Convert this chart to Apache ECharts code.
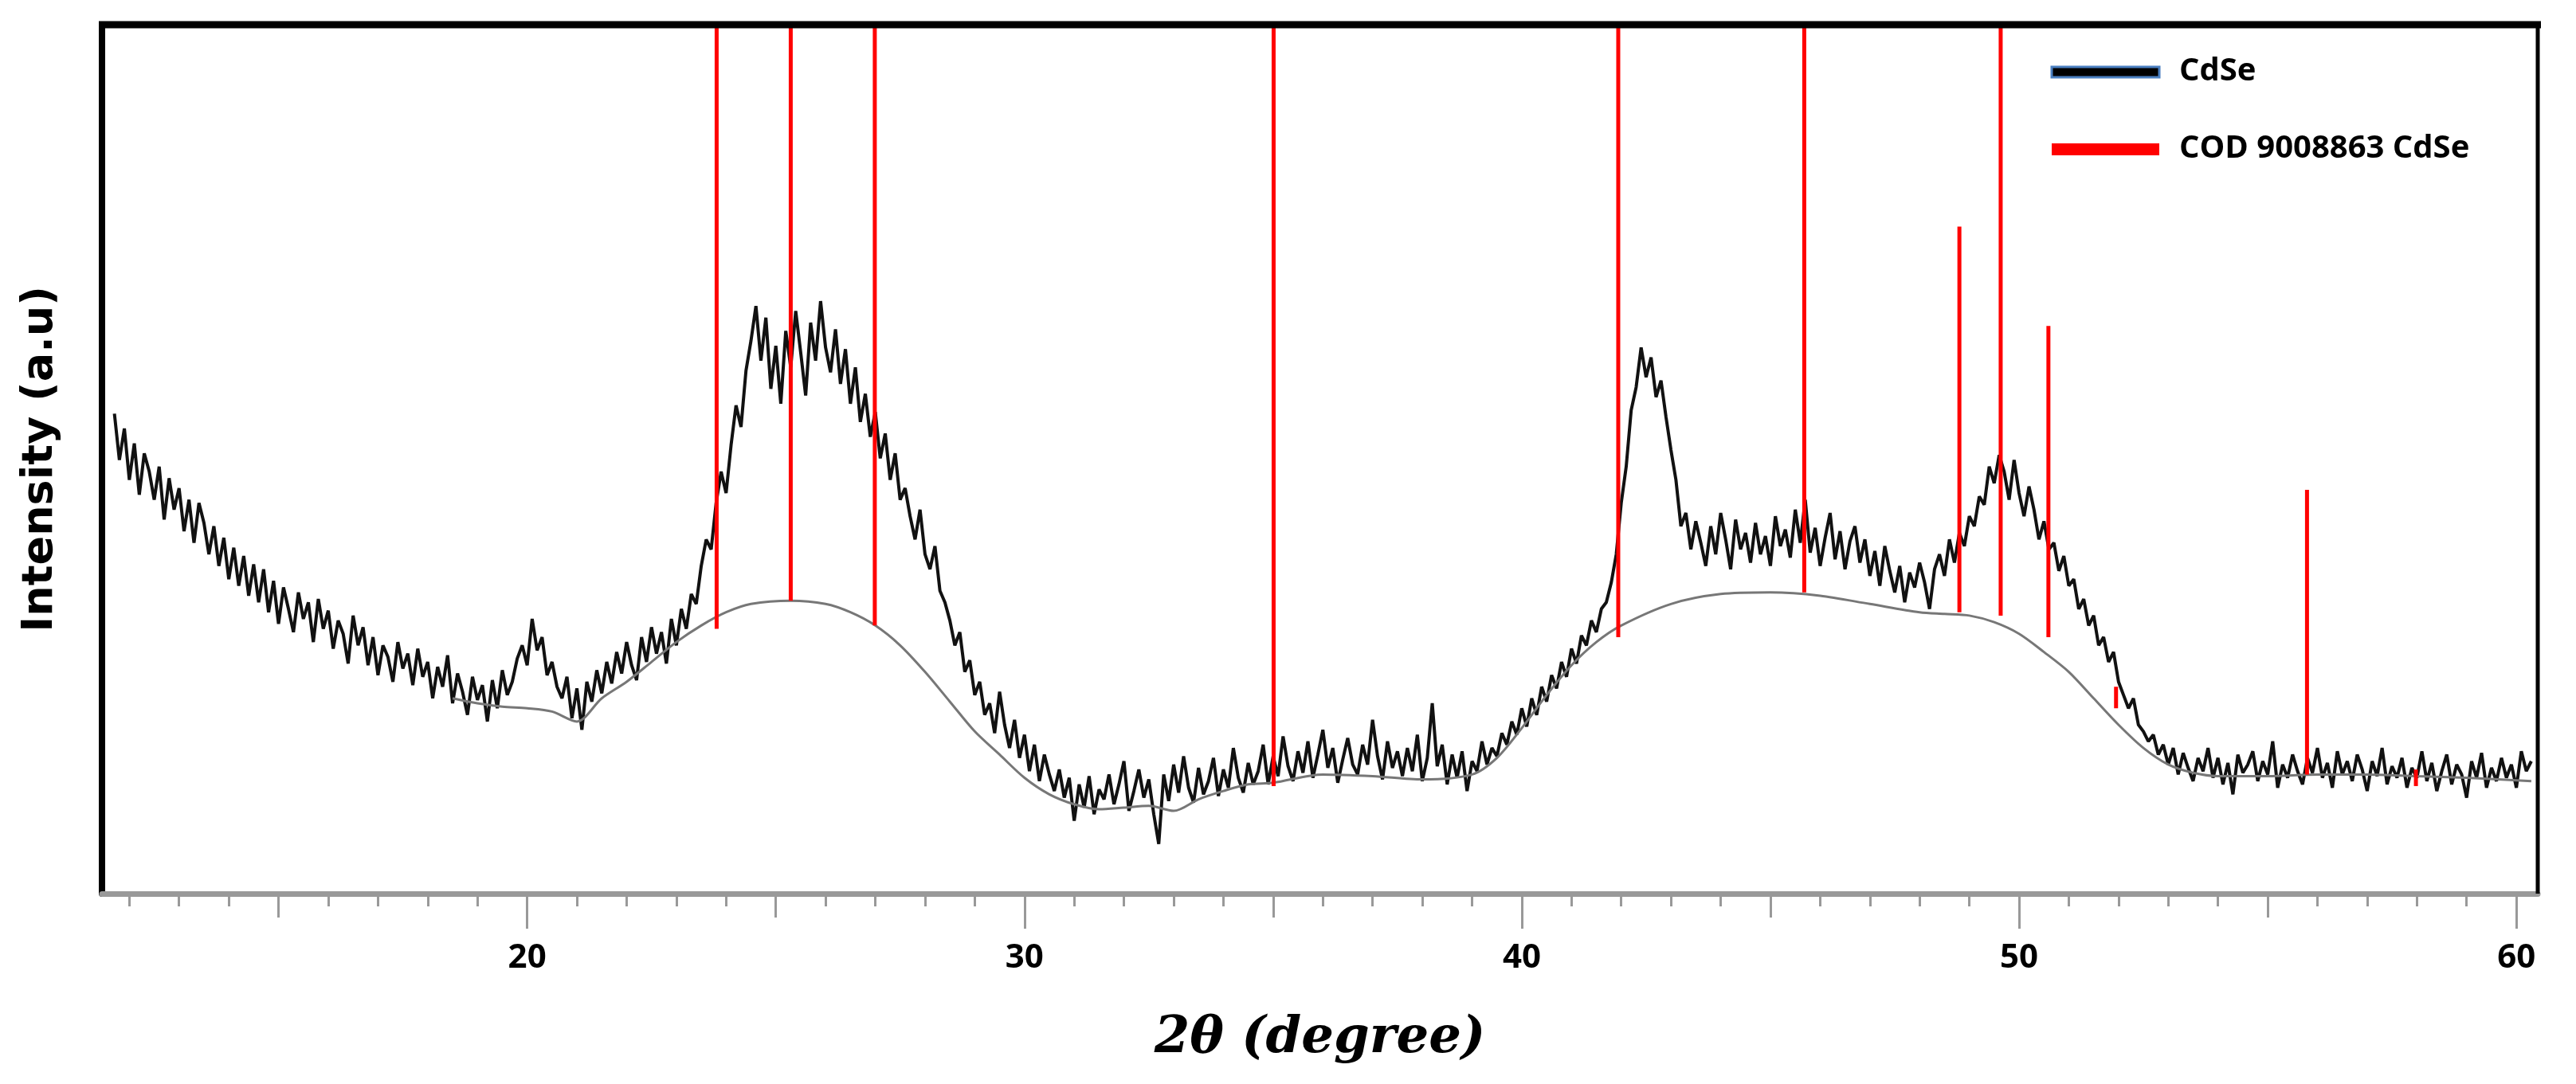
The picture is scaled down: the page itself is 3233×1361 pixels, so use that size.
<!DOCTYPE html>
<html><head><meta charset="utf-8">
<script src="https://cdn.jsdelivr.net/npm/echarts@6/dist/echarts.min.js"></script>
<style>html,body{margin:0;padding:0;background:#fff}#c{width:3233px;height:1361px}</style>
</head><body><div id="c"></div>
<script>
// measured CdSe pattern, 2theta from 11.7 in 0.1 degree steps
const scanStart = 11.7, scanStep = 0.1;
const cdse = [
290,262,281,250,272,241,266,255,238,258,
226,251,232,245,219,238,212,236,224,205,
222,198,215,190,209,186,204,180,199,176,
196,170,189,163,185,172,158,182,166,176,
152,178,160,171,148,165,157,139,168,150,
161,138,155,132,150,143,128,152,136,145,
126,148,131,140,118,137,125,144,115,133,
122,108,131,117,126,104,129,112,135,120,
128,142,150,138,166,147,155,132,140,125,
118,131,106,124,99,128,116,135,121,140,
127,146,133,152,138,129,155,140,161,145,
158,139,166,150,172,160,181,175,198,214,
208,236,255,242,271,295,282,316,334,355,
322,348,305,331,296,340,318,352,327,301,
345,322,358,330,315,341,308,329,296,318,
285,302,276,291,263,278,250,266,238,245,
228,214,232,205,196,210,183,176,165,150,
158,134,141,120,128,108,115,97,122,102,
88,105,82,96,74,90,68,84,72,62,
75,58,70,44,66,52,71,48,63,57,
72,54,66,80,50,62,75,58,69,48,
30,72,56,78,61,83,64,55,76,60,
68,82,59,75,64,88,70,61,79,66,
74,90,66,83,71,95,77,68,86,73,
92,70,84,99,76,88,67,81,94,78,
72,90,78,105,83,69,92,76,86,71,
88,74,96,68,82,115,77,90,66,84,
70,86,62,80,74,92,78,88,83,97,
90,104,96,112,101,118,108,125,116,132,
124,140,131,148,139,156,150,165,158,172,
176,188,205,236,258,292,306,330,312,324,
300,310,288,268,250,222,230,208,225,212,
198,222,205,230,214,196,226,208,218,200,
224,205,216,198,228,210,220,203,232,212,
238,206,221,198,215,230,202,219,196,213,
222,200,214,192,207,186,210,195,182,198,
176,194,185,200,188,172,196,205,192,214,
200,218,210,228,222,240,235,258,248,265,
255,238,262,242,228,246,232,214,225,208,
212,195,204,186,190,172,178,162,168,150,
155,140,146,128,120,112,118,102,98,92,
96,84,90,78,88,72,85,76,68,82,
74,88,70,82,66,79,60,84,73,78,
86,68,80,72,92,64,78,70,84,74,
66,82,73,88,70,79,64,86,72,80,
68,84,75,62,80,71,88,66,77,70,
82,64,76,70,86,68,79,62,74,84,
66,78,72,58,80,70,85,64,76,68,
82,70,78,64,86,74,80
];
const fitX = [18.5,19,19.5,20,20.5,21,21.5,22,22.5,23,23.5,24,24.5,25.3,26,26.5,27,27.5,28,28.5,29,29.5,30,30.5,31,31.5,32,32.5,33,33.5,34,34.5,35,36,37,38,39,39.5,40,40.5,41,41.5,42,43,44,45,46,47,48,48.5,49,49.5,50,50.5,51,51.5,52,52.5,53,53.5,54,55,56,57,58,59,60.3];
const fitY = [118,115,113,112,110,104,118,128,140,152,162,170,175,177,175,170,162,150,134,116,98,84,70,60,54,51,52,53,50,57,62,66,67,72,71,69,72,82,100,120,138,152,162,175,181,182,180,175,170,169,168,164,157,146,134,118,102,88,78,73,71,71,72,72,71,70,68];
const refPos = [23.81,25.30,26.99,35.01,41.94,45.68,49.63,48.80,50.59,55.79,51.95,57.98];
const refTop = [525,525,525,525,525,525,525,403,343,244,125,75];
const refBottom = [160,177,162,65,155,182,168,170,155,72,112,65];
const xTicks = [20,30,40,50,60];

const scanData = cdse.map((v,i)=>[+(scanStart+scanStep*i).toFixed(2), v]);
const fitData = fitX.map((x,i)=>[x, fitY[i]]);
const refData = refPos.map((x,i)=>[x, refBottom[i], refTop[i]]);
const ints=[]; for(let t=12;t<=60;t++) ints.push(t);
const fives=[15,25,35,45,55];
const XMIN=11.45, XMAX=60.43;
const baseX = {type:'value',min:XMIN,max:XMAX,position:'bottom',splitLine:{show:false}};
const chart = echarts.init(document.getElementById('c'));
chart.setOption({
  animation:false,
  grid:{left:128,right:48,top:31,bottom:239},
  xAxis:[
    Object.assign({},baseX,{
      name:'2θ (degree)',nameLocation:'middle',nameGap:150,
      nameTextStyle:{fontFamily:'DejaVu Serif',fontStyle:'italic',fontWeight:'bold',fontSize:64,color:'#000'},
      axisLine:{show:true,lineStyle:{color:'#999',width:7}},
      axisTick:{show:true,customValues:ints,length:16,lineStyle:{color:'#999',width:3}},
      axisLabel:{show:true,customValues:xTicks,margin:60,fontSize:42,fontWeight:'bold',color:'#000',fontFamily:'Open Sans'}
    }),
    Object.assign({},baseX,{axisLine:{show:false},axisLabel:{show:false},
      axisTick:{show:true,customValues:fives,length:30,lineStyle:{color:'#999',width:3}}}),
    Object.assign({},baseX,{axisLine:{show:false},axisLabel:{show:false},
      axisTick:{show:true,customValues:xTicks,length:44,lineStyle:{color:'#999',width:3}}})
  ],
  yAxis:{type:'value',min:0,max:525,
    name:'Intensity (a.u)',nameLocation:'middle',nameGap:50,nameRotate:90,
    nameTextStyle:{fontFamily:'DejaVu Sans',fontWeight:'bold',fontSize:54,color:'#000'},
    axisLine:{show:true,lineStyle:{color:'#000',width:8}},axisTick:{show:false},axisLabel:{show:false},splitLine:{show:false}},
  series:[
    {type:'line',data:scanData,showSymbol:false,lineStyle:{color:'#111',width:4},z:2},
    {type:'line',data:fitData,showSymbol:false,smooth:0.3,lineStyle:{color:'#777',width:3},z:3},
    {type:'custom',data:refData,z:4,renderItem:(p,api)=>{
      const a=api.coord([api.value(0),api.value(1)]), b=api.coord([api.value(0),api.value(2)]);
      return {type:'line',shape:{x1:a[0],y1:a[1],x2:b[0],y2:b[1]},style:{stroke:'#ff0000',lineWidth:5}};
    }}
  ],
  graphic:[
    {type:'line',shape:{x1:124,y1:31,x2:3189,y2:31},style:{stroke:'#000',lineWidth:9},z:10},
    {type:'line',shape:{x1:3185,y1:27,x2:3185,y2:1122},style:{stroke:'#000',lineWidth:5},z:10},
    {type:'rect',shape:{x:2575,y:84,width:135,height:13},style:{fill:'#000',stroke:'#4a7fc0',lineWidth:3},z:10},
    {type:'text',x:2735,y:90,style:{text:'CdSe',font:'bold 40px "Open Sans"',fill:'#000',textVerticalAlign:'middle'},z:10},
    {type:'rect',shape:{x:2575,y:180,width:135,height:15},style:{fill:'#ff0000'},z:10},
    {type:'text',x:2735,y:187,style:{text:'COD 9008863 CdSe',font:'bold 40px "Open Sans"',fill:'#000',textVerticalAlign:'middle'},z:10}
  ]
});
</script></body></html>
